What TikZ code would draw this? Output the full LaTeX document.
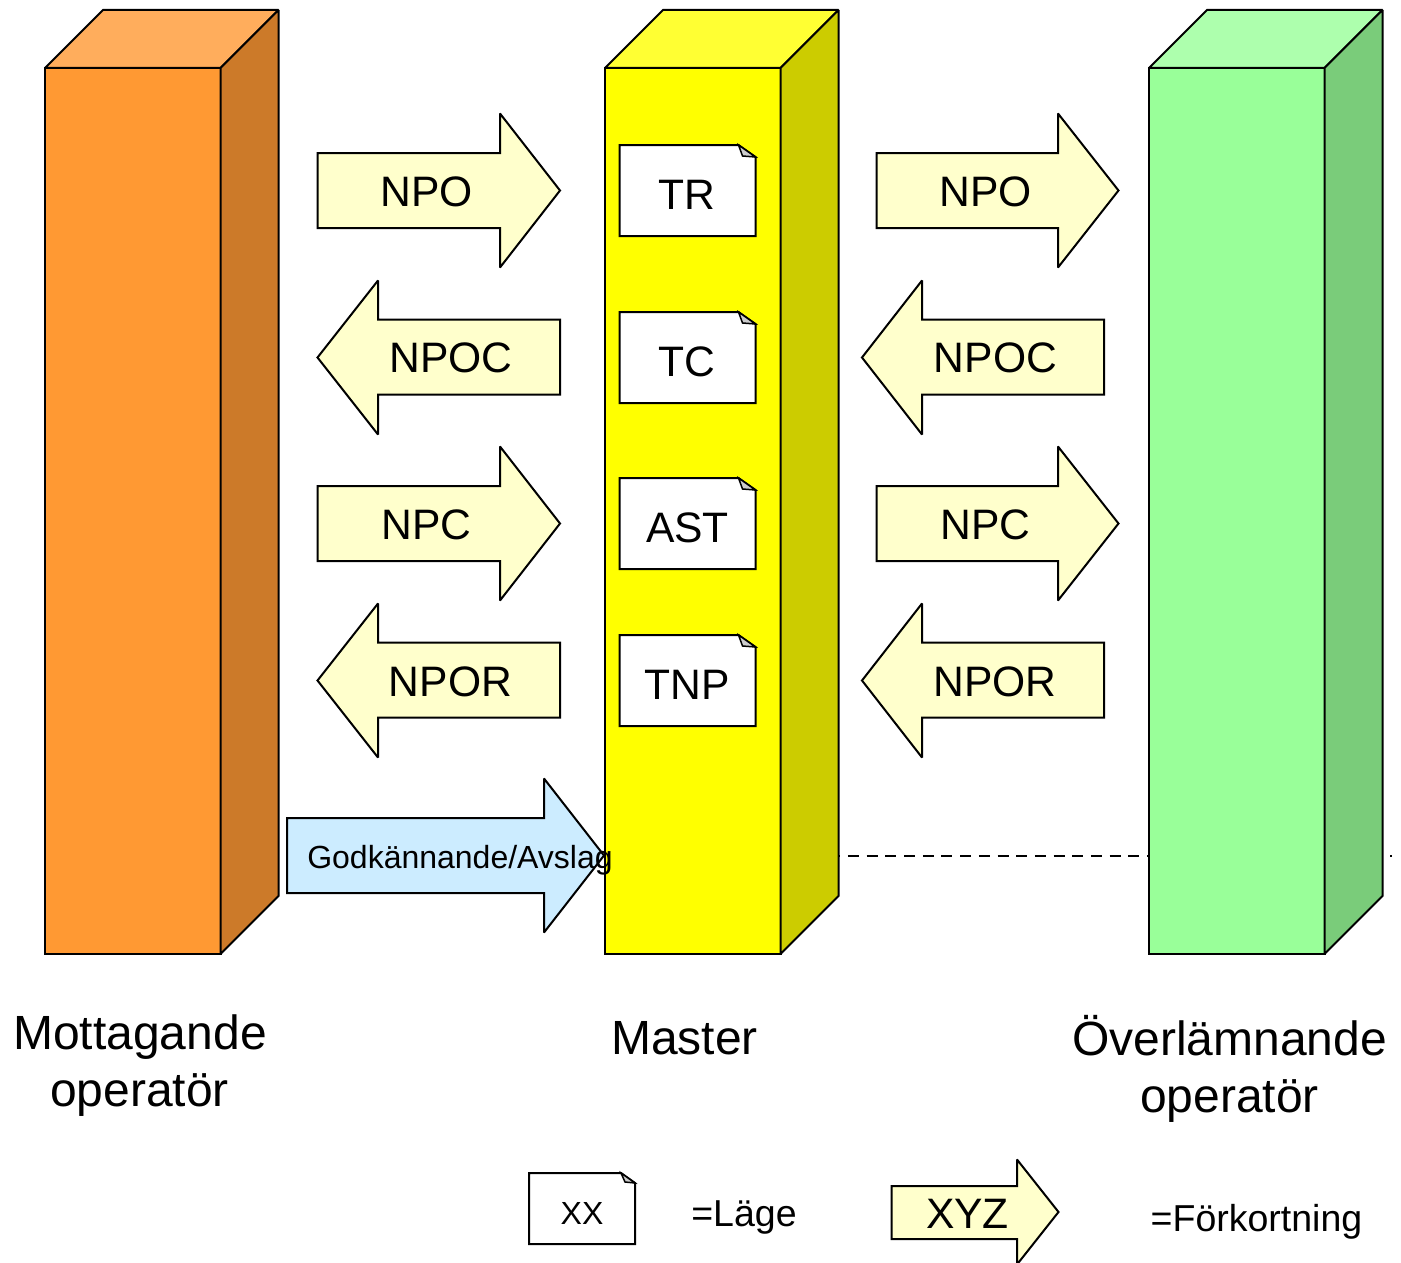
\documentclass[tikz,border=0pt]{standalone}
\usepackage{fontspec}
\setmainfont{Liberation Sans}
\definecolor{orF}{HTML}{FF9933}\definecolor{orT}{HTML}{FFAD5C}\definecolor{orS}{HTML}{CC7A29}
\definecolor{yeF}{HTML}{FFFF00}\definecolor{yeT}{HTML}{FFFF33}\definecolor{yeS}{HTML}{CCCC00}
\definecolor{grF}{HTML}{99FF99}\definecolor{grT}{HTML}{ADFFAD}\definecolor{grS}{HTML}{7ACC7A}
\definecolor{arF}{HTML}{FFFFCC}\definecolor{blF}{HTML}{CCECFF}\definecolor{foldc}{HTML}{CCCCCC}
\tikzset{
  outline/.style={draw=black,line width=2pt,line join=miter,miter limit=2},
  face/.style={outline,rectangle,inner sep=0pt,outer sep=0pt,minimum width=175.5pt,minimum height=886pt,anchor=north west},
  arrowshape/.style={outline,fill=arF},
  lab/.style={anchor=base,inner sep=0pt,font=\fontsize{42.6}{50}\selectfont},
  biglab/.style={anchor=base,inner sep=0pt,font=\fontsize{48}{56}\selectfont},
  leglab/.style={anchor=base,inner sep=0pt,font=\fontsize{37.5}{44}\selectfont},
  smalllab/.style={anchor=base,inner sep=0pt,font=\fontsize{32}{38}\selectfont},
  conn/.style={draw=black,line width=2.2pt,dash pattern=on 11pt off 7.69pt},
}
% column: name, x, front, top, side
\newcommand{\pillar}[5]{%
  \node[face,fill=#3] (#1) at (#2,68) {};
  \draw[outline,fill=#4] (#1.north west) -- ++(58,-58) -- ++(175.5,0) -- (#1.north east) -- cycle;
  \draw[outline,fill=#5] (#1.north east) -- ++(58,-58) -- ++(0,886) -- (#1.south east) -- cycle;
}
% right arrow: left, neck, tip, body top, body bottom, head top, head bottom, fill
\newcommand{\rarrow}[8]{%
  \draw[arrowshape,fill=#8] (#1,#4) -- (#2,#4) -- (#2,#6) -- (#3,{(#6+#7)/2}) -- (#2,#7) -- (#2,#5) -- (#1,#5) -- cycle;
}
% left arrow: tip, neck, right, body top, body bottom, head top, head bottom
\newcommand{\larrow}[7]{%
  \draw[arrowshape] (#3,#4) -- (#2,#4) -- (#2,#6) -- (#1,{(#6+#7)/2}) -- (#2,#7) -- (#2,#5) -- (#3,#5) -- cycle;
}
% note: left, top, right, bottom, fold size x, fold size y
\newcommand{\notebox}[6]{%
  \draw[outline,fill=white] (#1,#2) -- ({#3-#5},#2) -- (#3,{#2+#6}) -- (#3,#4) -- (#1,#4) -- cycle;
  \draw[draw=black,line width=1.5pt,fill=foldc] ({#3-#5},#2) -- (#3,{#2+#6}) -- ({#3-#5+4},{#2+#6-1}) -- cycle;
}
\begin{document}
\begin{tikzpicture}[x=1pt,y=-1pt]
\useasboundingbox (0,0) rectangle (1401,1263);
\fill[white] (0,0) rectangle (1401,1263);

\coordinate (dashstart) at (829.3,856);
\coordinate (dashend) at (1392,856);
\draw[conn] (dashstart) -- (dashend);

\pillar{receiver}{45}{orF}{orT}{orS}
\pillar{master}{605}{yeF}{yeT}{yeS}
\pillar{donor}{1149}{grF}{grT}{grS}

% left column arrows
\rarrow{317.5}{500}{560}{153}{228}{113.5}{267.5}{arF}
\node[lab] (a1) at (426.5,206.5) {NPO};
\larrow{317.5}{378}{560}{319.5}{394.5}{280.5}{434.5}
\node[lab] (a2) at (451,372.5) {NPOC};
\rarrow{317.5}{500}{560}{486}{561}{446.5}{600.5}{arF}
\node[lab] (a3) at (426.5,539.5) {NPC};
\larrow{317.5}{378}{560}{642.5}{717.5}{603.5}{757.5}
\node[lab] (a4) at (450.5,696.5) {NPOR};

% right column arrows
\rarrow{876.5}{1058}{1118.5}{153}{228}{113.5}{267.5}{arF}
\node[lab] (b1) at (985.5,206.5) {NPO};
\larrow{862}{922}{1104}{319.5}{394.5}{280.5}{434.5}
\node[lab] (b2) at (995.5,372.5) {NPOC};
\rarrow{876.5}{1058}{1118.5}{486}{561}{446.5}{600.5}{arF}
\node[lab] (b3) at (985.5,539.5) {NPC};
\larrow{862}{922}{1104}{642.5}{717.5}{603.5}{757.5}
\node[lab] (b4) at (995,696) {NPOR};

% approval arrow
\rarrow{287}{544}{604}{818}{893}{778.5}{932.5}{blF}
\node[smalllab] (approval) at (460,868) {Godkännande/Avslag};

% notes
\notebox{619.5}{145}{755.5}{236}{17}{12}
\node[lab] (n1) at (687,209.5) {TR};
\notebox{619.5}{312}{755.5}{403}{17}{12}
\node[lab] (n2) at (687,376.5) {TC};
\notebox{619.5}{478}{755.5}{569}{17}{12}
\node[lab] (n3) at (687.5,542.5) {AST};
\notebox{619.5}{635}{755.5}{726}{17}{12}
\node[lab] (n4) at (687,699.5) {TNP};

% column captions
\node[biglab] (c1a) at (140,1049) {Mottagande};
\node[biglab] (c1b) at (139.5,1106.5) {operatör};
\node[biglab] (c2) at (684.5,1054) {Master};
\node[biglab] (c3a) at (1229.5,1055) {Överlämnande};
\node[biglab] (c3b) at (1229.5,1112) {operatör};

% legend
\notebox{529}{1173}{635}{1244}{14}{10}
\node[smalllab] (l1) at (582,1224) {XX};
\node[leglab] (l2) at (744,1226) {=Läge};
\rarrow{891.5}{1017}{1058.5}{1186}{1239}{1159.5}{1264.5}{arF}
\node[lab] (l3) at (967.5,1228.5) {XYZ};
\node[leglab] (l4) at (1256.5,1231) {=Förkortning};
\end{tikzpicture}
\end{document}
